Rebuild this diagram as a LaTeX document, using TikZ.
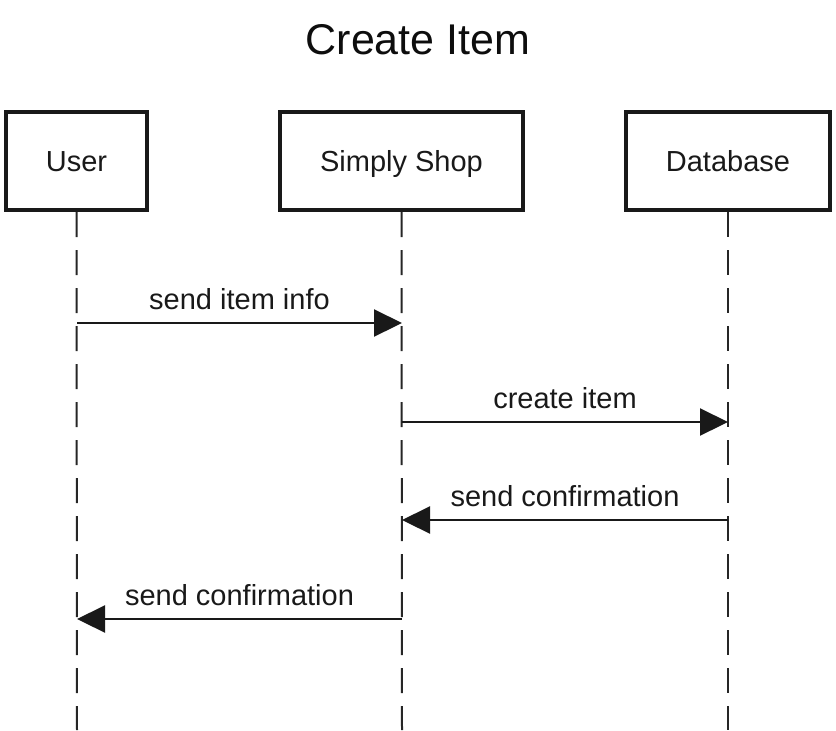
\documentclass[tikz,border=0pt]{standalone}
\usepackage{fontspec}
\setmainfont{Liberation Sans}
\usetikzlibrary{arrows.meta}
\begin{document}
\begin{tikzpicture}[x=0.5pt,y=-0.5pt,
  actor/.style={draw=black!90, line width=2.2pt, minimum height=49pt, inner sep=0pt, text height=10.5pt, text depth=0pt, font=\fontsize{14.5}{17}\selectfont, text=black!90},
  lifeline/.style={draw=black!85, line width=1pt, dash pattern=on 12.5pt off 6.5pt},
  msg/.style={draw=black!90, line width=1.1pt, -{Triangle[length=14pt,width=13.5pt]}},
  lbl/.style={font=\fontsize{14.5}{17}\selectfont, text=black!90, above, inner sep=0pt, yshift=6pt}]
\useasboundingbox (0,0) rectangle (836,730);
\node[font=\fontsize{21.5}{25}\selectfont, text=black!95] (title) at (418,40) {Create Item};
\node[actor, minimum width=70.5pt] (user) at (76.5,161) {User};
\node[actor, minimum width=121.5pt] (shop) at (401.5,161) {Simply Shop};
\node[actor, minimum width=102pt] (db) at (728,161) {Database};
\coordinate (userEnd) at (77,730);
\coordinate (shopEnd) at (402,730);
\coordinate (dbEnd) at (728,730);
\draw[lifeline] (user.south) -- (userEnd);
\draw[lifeline] (shop.south) -- (shopEnd);
\draw[lifeline] (db.south) -- (dbEnd);
\coordinate (u1) at (77,323);  \coordinate (s1) at (402,323);
\coordinate (s2) at (402,422); \coordinate (d2) at (728,422);
\coordinate (d3) at (728,520); \coordinate (s3) at (402,520);
\coordinate (s4) at (402,619); \coordinate (u4) at (77,619);
\draw[msg] (u1) -- node[lbl] (m1) {send item info} (s1);
\draw[msg] (s2) -- node[lbl] (m2) {create item} (d2);
\draw[msg] (d3) -- node[lbl] (m3) {send confirmation} (s3);
\draw[msg] (s4) -- node[lbl] (m4) {send confirmation} (u4);
\end{tikzpicture}
\end{document}
